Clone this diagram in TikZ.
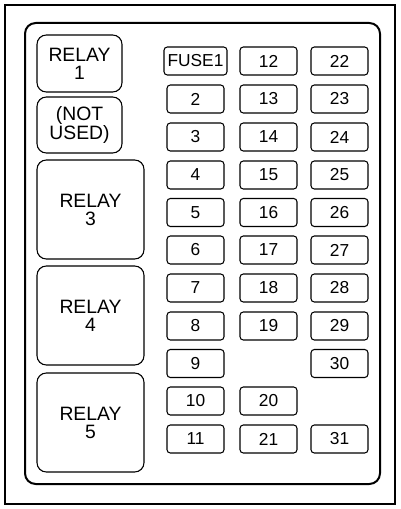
\documentclass[tikz,border=0pt]{standalone}
\usepackage{fontspec}
\setmainfont{Liberation Sans}
\usetikzlibrary{positioning}

\begin{document}
\begin{tikzpicture}[x=0.75pt,y=-0.75pt]
		\tikzstyle{every node}+=[inner sep=0pt]
		\tikzstyle{fuse}=[draw=black,line width=0.8pt,rounded corners=2.5pt,minimum width=57*0.75pt,minimum height=28*0.75pt,font=\fontsize{13}{13}\selectfont]
		\tikzstyle{relay}=[draw=black,line width=0.8pt,rounded corners=7pt,align=center,font=\fontsize{14.5}{13.5}\selectfont]
		\useasboundingbox (0,0) rectangle (400,509);
		% panel outline
		\draw [black,line width=1.2pt] (5,5) rectangle (395,504);
		\draw [black,line width=1.5pt,rounded corners=8pt] (25,23) rectangle (380,484);
		% relays
		\node [relay,minimum width=85*0.75pt,minimum height=57*0.75pt] (relay1) at (79.5,63.5) {RELAY\\1};
		\node [relay,minimum width=85*0.75pt,minimum height=56*0.75pt] (notused) at (79.5,125) {(NOT\\USED)};
		\node [relay,minimum width=107*0.75pt,minimum height=99*0.75pt] (relay3) at (90.5,209.5) {RELAY\\3};
		\node [relay,minimum width=107*0.75pt,minimum height=99*0.75pt] (relay4) at (90.5,315.5) {RELAY\\4};
		\node [relay,minimum width=107*0.75pt,minimum height=99*0.75pt] (relay5) at (90.5,422.5) {RELAY\\5};
		% fuses, first column
		\node [fuse,minimum width=63*0.75pt] (fuse1) at (195.5,61) {FUSE1};
		\node [fuse] (fuse2) at (195.5,99) {2};
		\node [fuse] (fuse3) at (195.5,137) {3};
		\node [fuse] (fuse4) at (195.5,175) {4};
		\node [fuse] (fuse5) at (195.5,212.5) {5};
		\node [fuse] (fuse6) at (195.5,250) {6};
		\node [fuse] (fuse7) at (195.5,288) {7};
		\node [fuse] (fuse8) at (195.5,326) {8};
		\node [fuse] (fuse9) at (195.5,363.5) {9};
		\node [fuse] (fuse10) at (195.5,401) {10};
		\node [fuse] (fuse11) at (195.5,439) {11};
		% second column
		\node [fuse] (fuse12) at (268.5,61) {12};
		\node [fuse] (fuse13) at (268.5,99) {13};
		\node [fuse] (fuse14) at (268.5,137) {14};
		\node [fuse] (fuse15) at (268.5,175) {15};
		\node [fuse] (fuse16) at (268.5,212.5) {16};
		\node [fuse] (fuse17) at (268.5,250) {17};
		\node [fuse] (fuse18) at (268.5,288) {18};
		\node [fuse] (fuse19) at (268.5,326) {19};
		\node [fuse] (fuse20) at (268.5,401) {20};
		\node [fuse] (fuse21) at (268.5,439) {21};
		% third column
		\node [fuse] (fuse22) at (339.5,61) {22};
		\node [fuse] (fuse23) at (339.5,99) {23};
		\node [fuse] (fuse24) at (339.5,137) {24};
		\node [fuse] (fuse25) at (339.5,175) {25};
		\node [fuse] (fuse26) at (339.5,212.5) {26};
		\node [fuse] (fuse27) at (339.5,250) {27};
		\node [fuse] (fuse28) at (339.5,288) {28};
		\node [fuse] (fuse29) at (339.5,326) {29};
		\node [fuse] (fuse30) at (339.5,363.5) {30};
		\node [fuse] (fuse31) at (339.5,439) {31};
\end{tikzpicture}
\end{document}
